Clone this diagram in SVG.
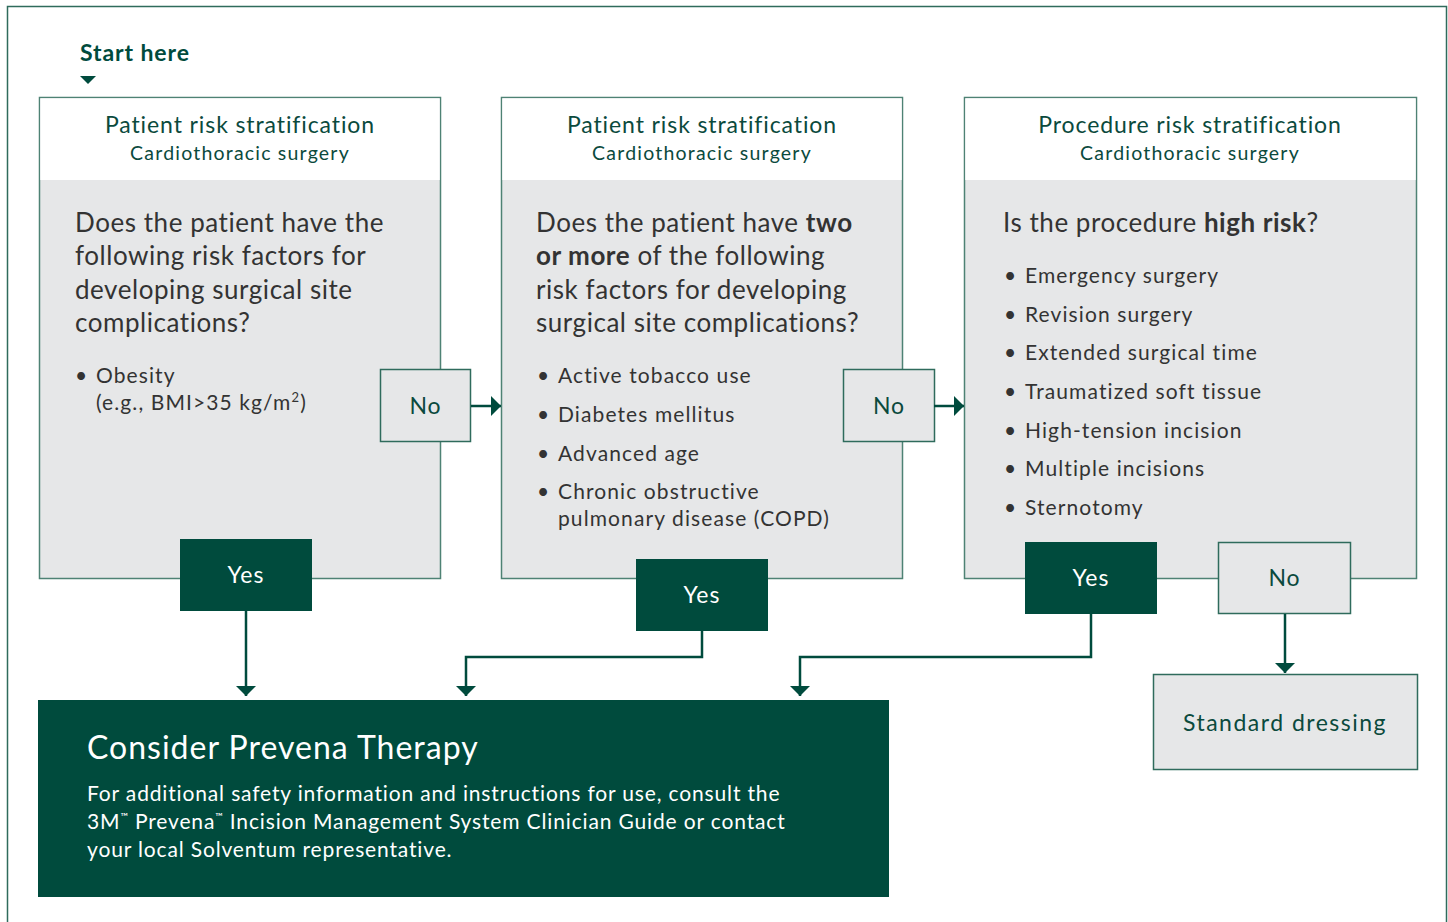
<svg xmlns="http://www.w3.org/2000/svg" width="1448" height="922" viewBox="0 0 1448 922">
<style>
text{font-family:Lato,"Liberation Sans",sans-serif;fill:#0b4a3d}
.panel{fill:#e6e7e8;stroke:#4e8274;stroke-width:1.5}
.hdr{fill:#fff}
.t1{font-size:23px;text-anchor:middle;letter-spacing:0.9px}
.t2{font-size:19.5px;text-anchor:middle;letter-spacing:1.2px}
.q{font-size:26px;fill:#333;letter-spacing:0.55px}
.b{font-size:21px;fill:#333;letter-spacing:1.1px}
.nobox{fill:#e6e7e8;stroke:#2f6b5c;stroke-width:1.5}
.yes{fill:#004b3d}
.lbl{font-size:23px;text-anchor:middle;letter-spacing:1px}
.wl{font-size:23px;text-anchor:middle;fill:#fff;letter-spacing:1px}
.con{fill:none;stroke:#004b3d;stroke-width:2.5}
.cw{fill:#fff;font-size:21px;letter-spacing:0.85px}
</style>
<defs>
<marker id="ah" viewBox="0 0 10 20" refX="10" refY="10" markerWidth="10" markerHeight="20" markerUnits="userSpaceOnUse" orient="auto">
<path d="M0,0 L10,10 L0,20 Z" fill="#004b3d"/>
</marker>
</defs>
<rect x="7.5" y="6.5" width="1439" height="930" fill="none" stroke="#2f6b5c" stroke-width="1.5"/>
<g id="start">
<text x="80" y="61" style="font-size:23px;font-weight:bold;fill:#004b3d;letter-spacing:0.9px">Start here</text>
<path d="M80,76 L96,76 L88,84 Z" fill="#004b3d"/>
</g>
<g id="panel1">
<rect class="panel" x="39.5" y="97.5" width="401" height="481"/>
<rect class="hdr" x="40.3" y="98.3" width="399.4" height="81.7"/>
<text class="t1" x="240" y="133">Patient risk stratification</text>
<text class="t2" x="240" y="160">Cardiothoracic surgery</text>
<text class="q" x="75" y="232">Does the patient have the</text>
<text class="q" x="75" y="265">following risk factors for</text>
<text class="q" x="75" y="299">developing surgical site</text>
<text class="q" x="75" y="332">complications?</text>
<text class="b" x="75" y="383">• <tspan x="96">Obesity</tspan></text>
<text class="b" x="96" y="410">(e.g., BMI&gt;35 kg/m<tspan dy="-8" font-size="13">2</tspan><tspan dy="8">)</tspan></text>
</g>
<g id="panel2">
<rect class="panel" x="501.5" y="97.5" width="401" height="481"/>
<rect class="hdr" x="502.3" y="98.3" width="399.4" height="81.7"/>
<text class="t1" x="702" y="133">Patient risk stratification</text>
<text class="t2" x="702" y="160">Cardiothoracic surgery</text>
<text class="q" x="536" y="232">Does the patient have <tspan font-weight="bold">two</tspan></text>
<text class="q" x="536" y="265"><tspan font-weight="bold">or more</tspan> of the following</text>
<text class="q" x="536" y="299">risk factors for developing</text>
<text class="q" x="536" y="332">surgical site complications?</text>
<text class="b" x="537" y="383">• <tspan x="558">Active tobacco use</tspan></text>
<text class="b" x="537" y="422">• <tspan x="558">Diabetes mellitus</tspan></text>
<text class="b" x="537" y="461">• <tspan x="558">Advanced age</tspan></text>
<text class="b" x="537" y="499">• <tspan x="558">Chronic obstructive</tspan></text>
<text class="b" x="558" y="526">pulmonary disease (COPD)</text>
</g>
<g id="panel3">
<rect class="panel" x="964.5" y="97.5" width="452" height="481"/>
<rect class="hdr" x="965.3" y="98.3" width="450.4" height="81.7"/>
<text class="t1" x="1190" y="133">Procedure risk stratification</text>
<text class="t2" x="1190" y="160">Cardiothoracic surgery</text>
<text class="q" x="1003" y="232">Is the procedure <tspan font-weight="bold">high risk</tspan>?</text>
<text class="b" x="1004" y="283">• <tspan x="1025">Emergency surgery</tspan></text>
<text class="b" x="1004" y="322">• <tspan x="1025">Revision surgery</tspan></text>
<text class="b" x="1004" y="360">• <tspan x="1025">Extended surgical time</tspan></text>
<text class="b" x="1004" y="399">• <tspan x="1025">Traumatized soft tissue</tspan></text>
<text class="b" x="1004" y="438">• <tspan x="1025">High-tension incision</tspan></text>
<text class="b" x="1004" y="476">• <tspan x="1025">Multiple incisions</tspan></text>
<text class="b" x="1004" y="515">• <tspan x="1025">Sternotomy</tspan></text>
</g>
<g id="no1"><rect class="nobox" x="380.5" y="369.5" width="90" height="72"/><text class="lbl" x="425.5" y="414">No</text></g>
<g id="no2"><rect class="nobox" x="843.5" y="369.5" width="91" height="72"/><text class="lbl" x="889" y="414">No</text></g>
<g id="yes1"><rect class="yes" x="180" y="539" width="132" height="72"/><text class="wl" x="246" y="583">Yes</text></g>
<g id="yes2"><rect class="yes" x="636" y="559" width="132" height="72"/><text class="wl" x="702" y="603">Yes</text></g>
<g id="yes3"><rect class="yes" x="1025" y="542" width="132" height="72"/><text class="wl" x="1091" y="586">Yes</text></g>
<g id="no3"><rect class="nobox" x="1218.5" y="542.5" width="132" height="71"/><text class="lbl" x="1284.5" y="586">No</text></g>
<g id="standard"><rect class="nobox" x="1153.5" y="674.5" width="264" height="95"/><text class="lbl" x="1285" y="731" style="letter-spacing:1.5px">Standard dressing</text></g>
<g id="consider">
<rect x="38" y="700" width="851" height="197" fill="#004b3d"/>
<text x="87" y="759" style="font-size:32px;fill:#fff;letter-spacing:1px">Consider Prevena Therapy</text>
<text class="cw" x="87" y="801">For additional safety information and instructions for use, consult the</text>
<text class="cw" x="87" y="829">3M<tspan font-size="10" dy="-9">™</tspan><tspan dy="9"> Prevena</tspan><tspan font-size="10" dy="-9">™</tspan><tspan dy="9"> Incision Management System Clinician Guide or contact</tspan></text>
<text class="cw" x="87" y="857">your local Solventum representative.</text>
</g>
<g id="connectors">
<path class="con" d="M471,406 H501" marker-end="url(#ah)"/>
<path class="con" d="M934,406 H964" marker-end="url(#ah)"/>
<path class="con" d="M246,611 V696" marker-end="url(#ah)"/>
<path class="con" d="M702,631 V657 H466 V696" marker-end="url(#ah)"/>
<path class="con" d="M1091,614 V657 H800 V696" marker-end="url(#ah)"/>
<path class="con" d="M1285,614 V673" marker-end="url(#ah)"/>
</g>
</svg>
